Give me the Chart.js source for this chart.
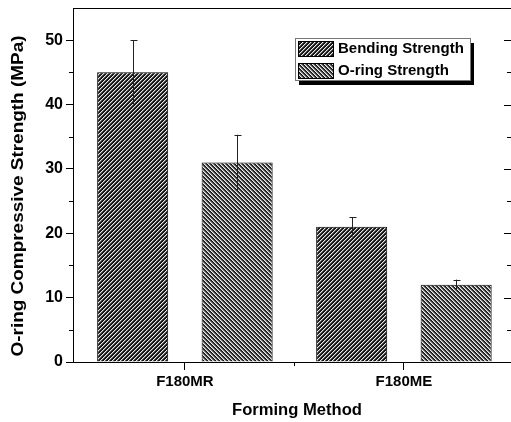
<!DOCTYPE html>
<html>
<head>
<meta charset="utf-8">
<script src="https://cdn.jsdelivr.net/npm/chart.js@4/dist/chart.umd.min.js"></script>
<style>
  body { margin: 0; background: #fff; overflow: hidden; }
  canvas { display: block; }
</style>
</head>
<body>
<canvas id="myChart" width="511" height="422"></canvas>
<script>
'use strict';

const categories = ['F180MR', 'F180ME'];
const bendingStrength = [45, 21];
const bendingError = [5, 1.5];
const oringStrength = [31, 12];
const oringError = [4.3, 0.8];
const seriesLabels = ['Bending Strength', 'O-ring Strength'];

const FONT = '"Liberation Sans", Arial, sans-serif';
const canvas = document.getElementById('myChart');
const ctx = canvas.getContext('2d');

// little 4x4 hatch tiles, one per series
function makePattern(shades, dir) {
  const c = document.createElement('canvas');
  c.width = 4;
  c.height = 4;
  const g = c.getContext('2d');
  const img = g.createImageData(4, 4);
  for (let y = 0; y < 4; y++) {
    for (let x = 0; x < 4; x++) {
      const k = dir === '/' ? (x + y) % 4 : ((x - y) % 4 + 4) % 4;
      const v = shades[k];
      const i = (y * 4 + x) * 4;
      img.data[i] = v; img.data[i + 1] = v; img.data[i + 2] = v; img.data[i + 3] = 255;
    }
  }
  g.putImageData(img, 0, 0);
  return ctx.createPattern(c, 'repeat');
}

const bendFill = makePattern([235, 100, 25, 20], '/');
const oringFill = makePattern([235, 150, 60, 20], '\\');

const errors = [bendingError, oringError];

const decorPlugin = {
  id: 'decor',
  afterDatasetsDraw(chart) {
    const c = chart.ctx;
    const area = chart.chartArea;
    const ys = chart.scales.y;
    const xs = chart.scales.x;
    c.save();

    // error bars
    c.strokeStyle = '#222';
    c.lineWidth = 1;
    chart.data.datasets.forEach((ds, di) => {
      chart.getDatasetMeta(di).data.forEach((bar, i) => {
        const v = ds.data[i].y;
        const e = errors[di][i];
        const x = Math.round(bar.x) + 0.5;
        const top = ys.getPixelForValue(v + e);
        const bot = ys.getPixelForValue(v - e);
        c.beginPath();
        c.moveTo(x, bot);
        c.lineTo(x, top);
        c.moveTo(x - 3, Math.round(top) + 0.5);
        c.lineTo(x + 4, Math.round(top) + 0.5);
        c.stroke();
      });
    });

    // right-hand ticks and minor ticks
    c.strokeStyle = '#000';
    c.lineWidth = 1;
    c.beginPath();
    for (let v = 0; v <= 55; v += 5) {
      const y = Math.round(ys.getPixelForValue(v)) + 0.5;
      const major = v % 10 === 0;
      c.moveTo(area.right, y);
      c.lineTo(area.right - (major ? 7 : 4), y);
      if (!major && v < 55) {
        c.moveTo(area.left, y);
        c.lineTo(area.left - 4, y);
      }
    }
    const mx = Math.round(xs.getPixelForValue(1.5)) + 0.5;
    c.moveTo(mx, area.bottom);
    c.lineTo(mx, area.bottom + 4);
    c.stroke();

    // legend box with drop shadow
    const lx = 295, ly = 38, lw = 175, lh = 42;
    c.fillStyle = '#000';
    c.fillRect(lx + 4, ly + 5, lw, lh);
    c.fillStyle = '#fff';
    c.fillRect(lx, ly, lw, lh);
    c.strokeStyle = '#777';
    c.strokeRect(lx + 0.5, ly + 0.5, lw, lh);
    const fills = [bendFill, oringFill];
    const rows = [41, 63];
    c.font = 'bold 15px ' + FONT;
    c.textBaseline = 'middle';
    c.textAlign = 'left';
    seriesLabels.forEach((t, i) => {
      c.fillStyle = fills[i];
      c.fillRect(298, rows[i], 35, 15);
      c.strokeStyle = '#000';
      c.strokeRect(298.5, rows[i] + 0.5, 35, 15);
      c.fillStyle = '#000';
      c.fillText(t, 338, rows[i] + 8);
    });

    // axis titles, stretched to the widths of the original
    function stretchedText(text, size, cx, cy, width, rot) {
      c.save();
      c.font = 'bold ' + size + 'px ' + FONT;
      c.textAlign = 'center';
      c.textBaseline = 'middle';
      c.fillStyle = '#000';
      const k = width / c.measureText(text).width;
      c.translate(cx, cy);
      c.rotate(rot);
      c.scale(k, 1);
      c.fillText(text, 0, 0);
      c.restore();
    }
    stretchedText('O-ring Compressive Strength (MPa)', 17, 18, 196, 321, -Math.PI / 2);
    stretchedText('Forming Method', 16, 297, 411, 130, 0);

    c.restore();
  }
};

const myChart = new Chart(ctx, {
  type: 'bar',
  data: {
    datasets: [{
      label: seriesLabels[0],
      data: categories.map((c, i) => ({ x: i + 1, y: bendingStrength[i] })),
      backgroundColor: bendFill,
      borderColor: '#000',
      borderWidth: 1
    }, {
      label: seriesLabels[1],
      data: categories.map((c, i) => ({ x: i + 1, y: oringStrength[i] })),
      backgroundColor: oringFill,
      borderColor: '#000',
      borderWidth: 1
    }]
  },
  options: {
    responsive: false,
    animation: false,
    barPercentage: 0.68,
    categoryPercentage: 0.954,
    layout: { padding: { top: 8, left: 0, right: 0, bottom: 0 } },
    plugins: {
      legend: { display: false },
      tooltip: { enabled: false }
    },
    scales: {
      x: {
        type: 'linear',
        min: 0.489,
        max: 2.489,
        offset: false,
        afterBuildTicks: (axis) => { axis.ticks = [{ value: 1 }, { value: 2 }]; },
        afterFit: (axis) => { axis.height = 60; axis.paddingLeft = 0; axis.paddingRight = 0; },
        ticks: {
          callback: (v) => categories[v - 1] || '',
          color: '#000',
          font: { family: FONT, size: 15, weight: 'bold' },
          padding: 3,
          maxRotation: 0
        },
        grid: { offset: false, drawOnChartArea: false, tickLength: 8, color: '#000' },
        border: { color: '#000' }
      },
      // top frame line
      x2: {
        type: 'linear',
        position: 'top',
        min: 0.489,
        max: 2.489,
        offset: false,
        afterFit: (axis) => { axis.height = 0; axis.paddingLeft = 0; axis.paddingRight = 0; },
        ticks: { display: false },
        grid: { drawOnChartArea: false, drawTicks: false },
        border: { display: true, color: '#000', width: 1 }
      },
      y: {
        min: 0,
        max: 55,
        afterFit: (axis) => { axis.width = 73; axis.paddingTop = 0; axis.paddingBottom = 0; },
        ticks: {
          stepSize: 10,
          includeBounds: false,
          color: '#000',
          font: { family: FONT, size: 16, weight: 'bold' },
          padding: 3
        },
        grid: { drawOnChartArea: false, tickLength: 7, color: '#000' },
        border: { color: '#000' }
      }
    }
  },
  plugins: [decorPlugin]
});
</script>
</body>
</html>
